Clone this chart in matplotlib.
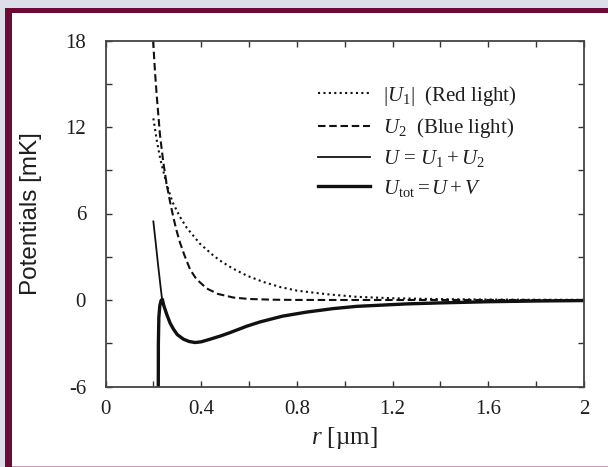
import matplotlib
matplotlib.use("Agg")
import matplotlib.pyplot as plt
from matplotlib.patches import Rectangle

# ---- data ----
# |U1| (red light), dotted
r_u1 = [0.2, 0.215, 0.23, 0.256, 0.28, 0.31, 0.34, 0.395, 0.45, 0.479, 0.53,
        0.591, 0.66, 0.73, 0.8, 0.925, 1.05, 1.2, 1.4, 1.6, 1.8, 2.0]
u1_abs = [12.6, 11.0, 9.7, 8.0, 6.8, 5.8, 5.0, 3.9, 3.1, 2.73, 2.2,
          1.69, 1.25, 0.9, 0.65, 0.4, 0.22, 0.12, 0.06, 0.03, 0.015, 0.01]

# U2 (blue light), dashed
r_u2 = [0.199, 0.207, 0.214, 0.228, 0.242, 0.256, 0.27, 0.284, 0.298, 0.312,
        0.33, 0.354, 0.38, 0.423, 0.47, 0.535, 0.6, 0.7, 0.8, 1.0, 1.5, 2.0]
u2 = [18.0, 15.8, 14.2, 11.4, 9.5, 8.0, 6.8, 5.7, 4.75, 3.95,
      3.1, 2.1, 1.45, 0.8, 0.42, 0.17, 0.07, 0.02, 0.005, 0.0, 0.0, 0.0]

# U = U1 + U2, thin solid
r_u = [0.2, 0.21, 0.22, 0.23, 0.2375, 0.256, 0.27, 0.284, 0.30, 0.326, 0.35,
       0.375, 0.40, 0.437, 0.48, 0.521, 0.59, 0.646, 0.74, 0.84, 0.95, 1.05,
       1.26, 1.4, 1.6, 1.8, 2.0]
u = [5.45, 3.95, 2.4, 0.95, -0.1, -0.98, -1.6, -2.02, -2.4, -2.72, -2.88,
     -2.95, -2.9, -2.72, -2.5, -2.26, -1.82, -1.52, -1.12, -0.84, -0.6, -0.44,
     -0.27, -0.2, -0.12, -0.07, -0.04]

# U_tot = U + V, thick solid
r_tot = [0.2205, 0.221, 0.223, 0.227, 0.232, 0.2375, 0.244, 0.256, 0.27, 0.284,
         0.30, 0.326, 0.35, 0.375, 0.40, 0.437, 0.48, 0.521, 0.59, 0.646, 0.74,
         0.84, 0.95, 1.05, 1.26, 1.4, 1.6, 1.8, 2.0]
u_tot = [-7.0, -3.0, -1.2, -0.4, -0.05, 0.05, -0.4, -1.0, -1.6, -2.02,
         -2.4, -2.72, -2.88, -2.95, -2.9, -2.72, -2.5, -2.26, -1.82, -1.52, -1.12,
         -0.84, -0.6, -0.44, -0.27, -0.2, -0.12, -0.07, -0.04]

x_ticks = [0, 0.4, 0.8, 1.2, 1.6, 2]
x_tick_labels = ["0", "0.4", "0.8", "1.2", "1.6", "2"]
y_ticks = [-6, 0, 6, 12, 18]
y_tick_labels = ["-6", "0", "6", "12", "18"]

legend_labels = [r"$|U_1|$  (Red light)",
                 r"$U_2$  (Blue light)",
                 r"$U\, =\, U_1 + U_2$",
                 r"$U_{\rm tot} = U + V$"]

# ---- fonts ----
plt.rcParams["font.family"] = ["Liberation Serif", "DejaVu Serif"]
plt.rcParams["mathtext.fontset"] = "custom"
plt.rcParams["mathtext.rm"] = "Liberation Serif"
plt.rcParams["mathtext.it"] = "Liberation Serif:italic"

W, H = 608, 467
fig = plt.figure(figsize=(W / 100, H / 100), dpi=100)
fig.patch.set_facecolor("#dcdfe9")

# maroon frame and white panel
fig.patches.append(Rectangle((5 / W, 0), 1, (H - 8) / H, transform=fig.transFigure,
                             facecolor="#6b0b36", edgecolor="none", zorder=-3))
fig.patches.append(Rectangle((12 / W, 1 / H), 1, (H - 14) / H, transform=fig.transFigure,
                             facecolor="white", edgecolor="none", zorder=-2))
fig.patches.append(Rectangle((12 / W, 0), 1, 1 / H, transform=fig.transFigure,
                             facecolor="#c99aae", edgecolor="none", zorder=-2))

ax = fig.add_axes([105.5 / W, 1 - 386.5 / H, 478.5 / W, 346 / H])
ax.set_facecolor("white")

ink = "#111111"
ax.plot(r_u1, u1_abs, color=ink, lw=1.5, linestyle=(0, (1, 1.6)), label=legend_labels[0])
ax.plot(r_u2, u2, color=ink, lw=1.5, linestyle=(0, (3.6, 1.8)), label=legend_labels[1])
ax.plot(r_u, u, color=ink, lw=1.3, label=legend_labels[2])
ax.plot(r_tot, u_tot, color=ink, lw=2.4, label=legend_labels[3])

ax.set_xlim(0, 2)
ax.set_ylim(-6, 18)
ax.set_xticks(x_ticks)
ax.set_xticklabels(x_tick_labels)
ax.set_xticks([0.2, 0.6, 1.0, 1.4, 1.8], minor=True)
ax.set_yticks(y_ticks)
ax.set_yticklabels(y_tick_labels)
ax.set_yticks([-3, 3, 9, 15], minor=True)

ax.tick_params(which="both", direction="in", top=True, right=True,
               length=4, width=1, color="#333333")
ax.tick_params(axis="x", which="major", labelsize=15, pad=10, labelcolor="#1e1e1e")
ax.tick_params(axis="y", which="major", labelsize=15, pad=14, labelcolor="#1e1e1e")
for s in ax.spines.values():
    s.set_color("#444444")
    s.set_linewidth(1.3)

ax.set_xlabel("$r$ [\u00b5m]", fontsize=18, labelpad=4, color="#1e1e1e")
fig.text(31 / W, 1 - 214 / H, "Potentials [mK]", rotation=90, ha="center", va="center",
         fontsize=17.5, family="Liberation Sans", color="#1e1e1e")

leg = ax.legend(loc="upper left", bbox_to_anchor=(0.444, 0.875), frameon=False,
                fontsize=15, handlelength=2.5, handletextpad=0.6, labelspacing=0.4,
                borderpad=0, borderaxespad=0)
for t in leg.get_texts():
    t.set_color("#1e1e1e")

fig.savefig("out.png", dpi=100, facecolor=fig.get_facecolor())
